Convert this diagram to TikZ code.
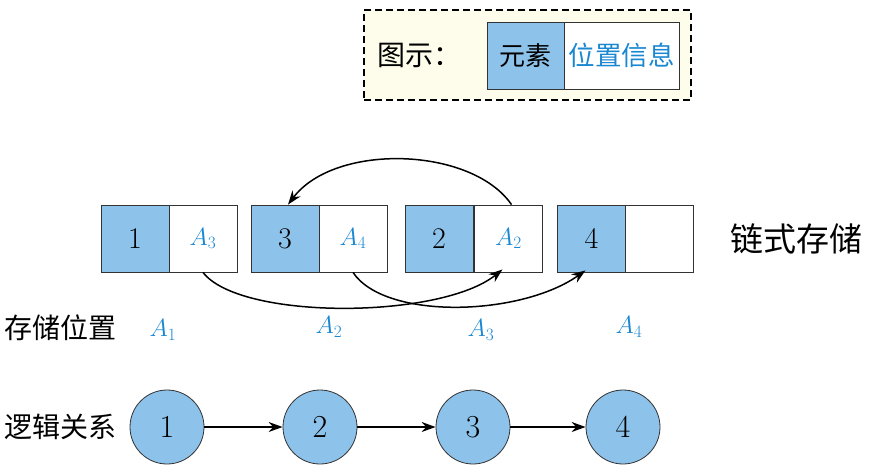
\documentclass[tikz,border=0pt]{standalone}
\usepackage{fontspec}
\newfontfamily\cjk{Noto Sans CJK SC}
\usetikzlibrary{arrows.meta}
\definecolor{cellblue}{RGB}{141,194,234}
\definecolor{txtblue}{RGB}{25,135,210}
\definecolor{cream}{RGB}{254,252,234}
\tikzset{
  cellb/.style={draw=black!80, line width=0.8pt, fill=cellblue, minimum width=68pt, minimum height=67pt, inner sep=0pt, font=\fontsize{30}{32}\selectfont},
  cellw/.style={draw=black!80, line width=0.8pt, fill=white, minimum width=68pt, minimum height=67pt, inner sep=0pt, text=txtblue, font=\fontsize{27}{30}\selectfont},
  lnode/.style={circle, draw=black!80, line width=0.8pt, fill=cellblue, minimum size=74pt, inner sep=0pt, font=\fontsize{32}{34}\selectfont},
  lbl/.style={font=\cjk\fontsize{28}{30}\selectfont, inner sep=0pt},
  addr/.style={text=txtblue, font=\fontsize{26}{28}\selectfont, inner sep=0pt},
  link/.style={line width=1.5pt, -{Stealth[length=14pt,width=10pt]}}
}
\begin{document}
\begin{tikzpicture}[x=1pt,y=-1pt]
\useasboundingbox (0,0) rectangle (888,472);
% legend
\node[draw, dash pattern=on 7pt off 4pt, line width=1.5pt, fill=cream, minimum width=327pt, minimum height=90pt, inner sep=0pt] (legend) at (527.5,55) {};
\node[font=\cjk\fontsize{28}{30}\selectfont, inner sep=0pt, anchor=west] (legtitle) at (377,55) {图示：};
\node[draw=black!80, line width=0.8pt, fill=cellblue, minimum width=77pt, minimum height=67pt, inner sep=0pt, font=\cjk\fontsize{26}{28}\selectfont] (legel) at (525.5,55.5) {元素};
\node[draw=black!80, line width=0.8pt, fill=white, minimum width=115pt, minimum height=67pt, inner sep=0pt, text=txtblue, font=\cjk\fontsize{26.5}{28}\selectfont] (legpos) at (621.5,55.5) {位置信息};
% storage
\node[cellb] (b1) at (135,238.5) {1};
\node[cellw] (w1) at (203,238.5) {$A_3$};
\node[cellb] (b2) at (285,238.5) {3};
\node[cellw] (w2) at (353,238.5) {$A_4$};
\node[cellb] (b3) at (439,238.5) {2};
\node[cellw] (w3) at (508.5,238.5) {$A_2$};
\node[cellb] (b4) at (591.5,238.5) {4};
\node[cellw] (w4) at (659.5,238.5) {};
\node[font=\cjk\fontsize{33}{36}\selectfont, inner sep=0pt] (chain) at (796,239) {链式存储};
% links
\draw[link] (w1.south) .. controls +(37,48) and +(-62,50) .. ([xshift=-6pt,yshift=3pt]w3.south);
\draw[link] (w2.south) .. controls +(32,48) and +(-65,46) .. ([xshift=-6pt,yshift=2pt]b4.south);
\draw[link] ([xshift=3pt]w3.north) .. controls +(-40,-58) and +(47,-62) .. ([xshift=3pt]b2.north);
% addresses
\node[lbl] (stlbl) at (61,328) {存储位置};
\node[addr] (a1) at (163,330) {$A_1$};
\node[addr] (a2) at (329,327) {$A_2$};
\node[addr] (a3) at (481,330) {$A_3$};
\node[addr] (a4) at (629,327) {$A_4$};
% logical
\node[lbl] (lglbl) at (61,427) {逻辑关系};
\node[lnode] (n1) at (167,427) {1};
\node[lnode] (n2) at (320,427) {2};
\node[lnode] (n3) at (473,427) {3};
\node[lnode] (n4) at (623,427) {4};
\draw[link] (n1) -- (n2);
\draw[link] (n2) -- (n3);
\draw[link] (n3) -- (n4);
\end{tikzpicture}
\end{document}
